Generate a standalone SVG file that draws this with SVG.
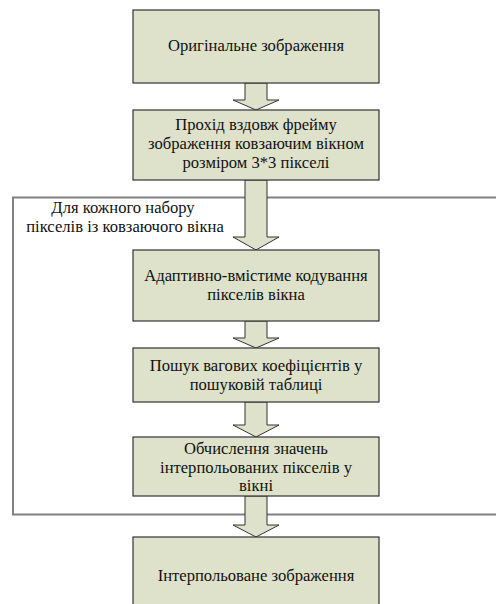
<svg xmlns="http://www.w3.org/2000/svg" width="496" height="604" viewBox="0 0 496 604">
<style>
.box{fill:#dee2ca;stroke:#333333;stroke-width:1.2}
.arr{fill:#dee2ca;stroke:#333333;stroke-width:1}
.t{font-family:"Liberation Serif","Times New Roman",serif;font-size:16.6px;fill:#111;text-anchor:middle}
</style>
<rect width="496" height="604" fill="#ffffff"/>
<g id="loop">
<polyline points="500,197.5 13,197.5 13,514.5 500,514.5" fill="none" stroke="#808080" stroke-width="2"/>
<text class="t" x="123" y="213">Для кожного набору</text>
<text class="t" x="125" y="232">пікселів із ковзаючого вікна</text>
</g>
<g id="connectors">
<polygon class="arr" points="245,83 267,83 267,100 279,100 256,110 233,100 245,100"/>
<polygon class="arr" points="245,180 267,180 267,237 279,237 256,250 233,237 245,237"/>
<polygon class="arr" points="245,321 267,321 267,338 279,338 256,348 233,338 245,338"/>
<polygon class="arr" points="245,402 267,402 267,425 279,425 256,437 233,425 245,425"/>
<polygon class="arr" points="245,496 267,496 267,525 279,525 256,537 233,525 245,525"/>
</g>
<g id="n1">
<rect class="box" x="133" y="10" width="246" height="73"/>
<text class="t" x="256" y="51">Оригінальне зображення</text>
</g>
<g id="n2">
<rect class="box" x="133" y="110" width="246" height="70"/>
<text class="t" x="256" y="130">Прохід вздовж фрейму</text>
<text class="t" x="256" y="149">зображення ковзаючим вікном</text>
<text class="t" x="256" y="168">розміром 3*3 пікселі</text>
</g>
<g id="n3">
<rect class="box" x="133" y="250" width="246" height="71"/>
<text class="t" x="256" y="281">Адаптивно-вмістиме кодування</text>
<text class="t" x="256" y="300">пікселів вікна</text>
</g>
<g id="n4">
<rect class="box" x="133" y="348" width="246" height="54"/>
<text class="t" x="256" y="371">Пошук вагових коефіцієнтів у</text>
<text class="t" x="256" y="390">пошуковій таблиці</text>
</g>
<g id="n5">
<rect class="box" x="133" y="437" width="246" height="59"/>
<text class="t" x="256" y="454">Обчислення значень</text>
<text class="t" x="256" y="473">інтерпольованих пікселів у</text>
<text class="t" x="256" y="491">вікні</text>
</g>
<g id="n6">
<rect class="box" x="133" y="537" width="246" height="80"/>
<text class="t" x="256" y="581">Інтерпольоване зображення</text>
</g>
</svg>
